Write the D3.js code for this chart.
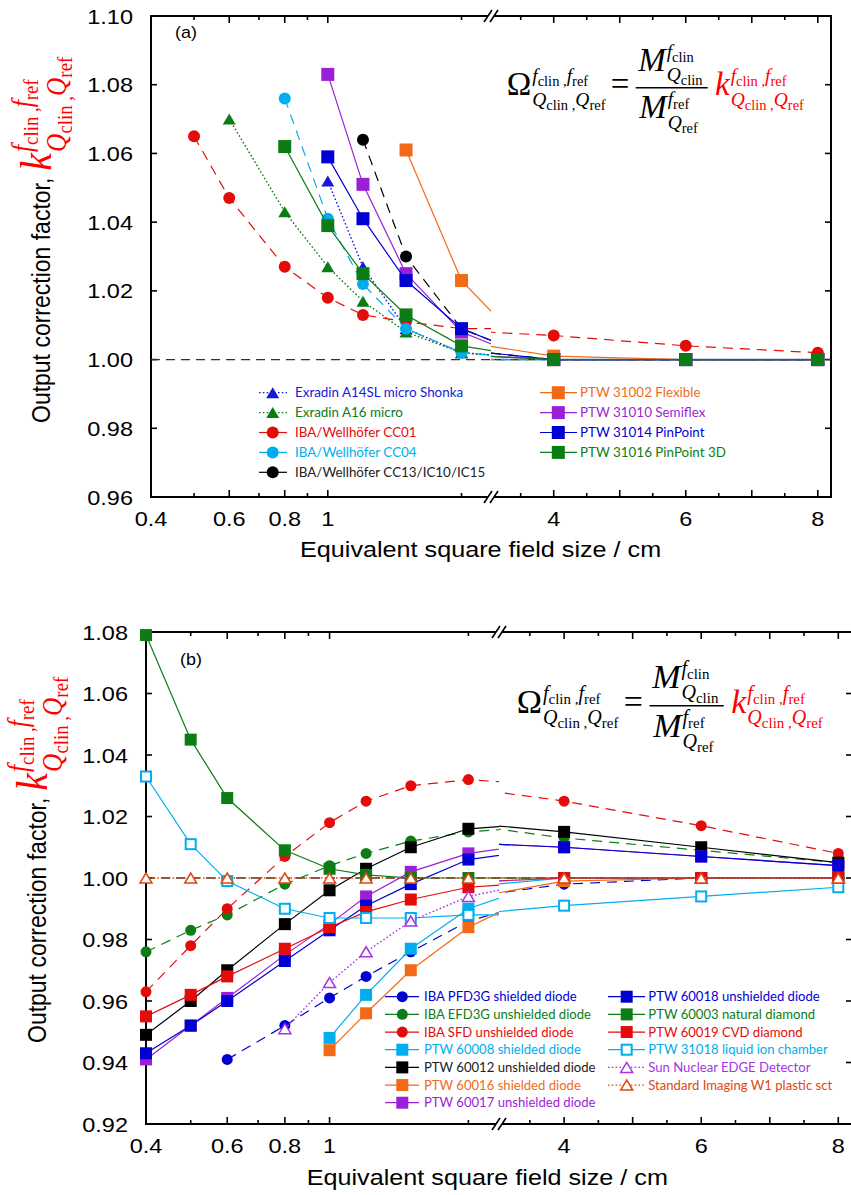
<!DOCTYPE html>
<html>
<head>
<meta charset="utf-8">
<script src="https://cdn.jsdelivr.net/npm/d3@7"></script>
<style>
body { margin: 0; background: #fff; }
svg { display: block; }
</style>
</head>
<body>
<svg id="chart" width="851" height="1195"></svg>
<script>
/*
Output correction factors vs equivalent square field size (two panels).
x axis is broken: log part 0.4 - 2.33 cm, linear part 3.05 - 8.2 cm.
*/

// Field sizes / cm shared by every series (2.5 and 3 sit inside the axis break)
var fieldSizes = [0.4, 0.5, 0.6, 0.8, 1.0, 1.2, 1.5, 2.0, 2.5, 3.0, 4.0, 6.0, 8.0];

// Panel (a): ionization chambers
var exradinA14SL = [null, null, null, null, 1.052, 1.027, 1.009, 1.002, 1.001, 1.000, 1.000, 1.000, 1.000];
var exradinA16   = [null, null, 1.070, 1.043, 1.027, 1.017, 1.008, 1.002, 1.001, 1.000, 1.000, 1.000, 1.000];
var ibaCC01      = [null, 1.065, 1.047, 1.027, 1.018, 1.013, 1.011, 1.009, 1.009, 1.008, 1.007, 1.004, 1.002];
var ibaCC04      = [null, null, null, 1.076, 1.041, 1.022, 1.009, 1.002, 1.001, 1.000, 1.000, 1.000, 1.000];
var ibaCC13      = [null, null, null, null, null, 1.064, 1.030, 1.009, 1.004, 1.002, 1.000, 1.000, 1.000];
var ptw31002     = [null, null, null, null, null, null, 1.061, 1.023, 1.010, 1.004, 1.001, 1.000, 1.000];
var ptw31010     = [null, null, null, null, 1.083, 1.051, 1.025, 1.008, 1.003, 1.001, 1.000, 1.000, 1.000];
var ptw31014     = [null, null, null, null, 1.059, 1.041, 1.023, 1.009, 1.004, 1.002, 1.000, 1.000, 1.000];
var ptw31016     = [null, null, null, 1.062, 1.039, 1.025, 1.013, 1.004, 1.002, 1.001, 1.000, 1.000, 1.000];

// Panel (b): diodes, diamonds, liquid chamber, scintillator
var ibaPFD3G  = [null, null, 0.941, 0.952, 0.961, 0.968, 0.976, 0.986, 0.990, 0.995, 0.998, 1.000, 1.000];
var ibaEFD3G  = [0.976, 0.983, 0.988, 0.998, 1.004, 1.008, 1.012, 1.015, 1.016, 1.016, 1.013, 1.009, 1.005];
var ibaSFD    = [0.963, 0.978, 0.990, 1.007, 1.018, 1.025, 1.030, 1.032, 1.031, 1.028, 1.025, 1.017, 1.008];
var ptw60008  = [null, null, null, null, 0.948, 0.962, 0.977, 0.990, 0.995, 0.998, 1.000, 1.000, 1.000];
var ptw60012  = [0.949, 0.960, 0.970, 0.985, 0.996, 1.003, 1.010, 1.016, 1.017, 1.017, 1.015, 1.010, 1.005];
var ptw60016  = [null, null, null, null, 0.944, 0.956, 0.970, 0.984, 0.991, 0.995, 0.999, 1.000, 1.000];
var ptw60017  = [0.941, 0.952, 0.961, 0.975, 0.985, 0.994, 1.002, 1.008, 1.010, 1.011, 1.010, 1.007, 1.004];
var ptw60018  = [0.943, 0.952, 0.960, 0.973, 0.983, 0.991, 0.998, 1.006, 1.008, 1.011, 1.010, 1.007, 1.004];
var ptw60003  = [1.079, 1.045, 1.026, 1.009, 1.003, 1.001, 1.000, 1.000, 1.000, 1.000, 1.000, 1.000, 1.000];
var ptw60019  = [0.955, 0.962, 0.968, 0.977, 0.984, 0.989, 0.993, 0.997, 0.998, 0.999, 1.000, 1.000, 1.000];
var ptw31018  = [1.033, 1.011, 0.999, 0.990, 0.987, 0.987, 0.987, 0.988, 0.988, 0.989, 0.991, 0.994, 0.997];
var snEDGE    = [null, null, null, 0.951, 0.966, 0.976, 0.986, 0.994, 0.997, 0.999, 1.000, 1.000, 1.000];
var siW1      = [1.000, 1.000, 1.000, 1.000, 1.000, 1.000, 1.000, 1.000, 1.000, 1.000, 1.000, 1.000, 1.000];

// Tick values
var xLabelsLog = [0.4, 0.6, 0.8, 1];
var xMinorLog = [0.5, 0.7, 0.9, 2];
var xMajorLin = [4, 5, 6, 7, 8];
var xLabelsLin = [4, 6, 8];
var xMinorLin = [3.5, 4.5, 5.5, 6.5, 7.5];
var yTicksA = [0.96, 0.98, 1.00, 1.02, 1.04, 1.06, 1.08, 1.10];
var yTicksB = [0.92, 0.94, 0.96, 0.98, 1.00, 1.02, 1.04, 1.06, 1.08];

/*
Styles
*/
var blue = "#0000d2", green = "#0c7d14", red = "#e40b0b", cyan = "#00aeef",
	orange = "#f26a17", purple = "#9b1fd6";

var seriesA = [
	{ name: "Exradin A14SL micro Shonka", values: exradinA14SL, color: "#1818d8", marker: "tri", line: "dot" },
	{ name: "Exradin A16 micro", values: exradinA16, color: green, marker: "tri", line: "dot" },
	{ name: "IBA/Wellhöfer CC01", values: ibaCC01, color: red, marker: "circle", line: "dash" },
	{ name: "IBA/Wellhöfer CC04", values: ibaCC04, color: cyan, marker: "circle", line: "dash" },
	{ name: "IBA/Wellhöfer CC13/IC10/IC15", values: ibaCC13, color: "#000", marker: "circle", line: "dash" },
	{ name: "PTW 31002 Flexible", values: ptw31002, color: orange, marker: "square", line: "solid" },
	{ name: "PTW 31010 Semiflex", values: ptw31010, color: purple, marker: "square", line: "solid" },
	{ name: "PTW 31014 PinPoint", values: ptw31014, color: blue, marker: "square", line: "solid" },
	{ name: "PTW 31016 PinPoint 3D", values: ptw31016, color: green, marker: "square", line: "solid" }
];

var seriesB = [
	{ name: "IBA PFD3G shielded diode", values: ibaPFD3G, color: blue, marker: "circle", line: "dash" },
	{ name: "IBA EFD3G unshielded diode", values: ibaEFD3G, color: green, marker: "circle", line: "dash" },
	{ name: "IBA SFD unshielded diode", values: ibaSFD, color: red, marker: "circle", line: "dash" },
	{ name: "PTW 60008 shielded diode", values: ptw60008, color: cyan, marker: "square", line: "solid" },
	{ name: "PTW 60012 unshielded diode", values: ptw60012, color: "#000", marker: "square", line: "solid" },
	{ name: "PTW 60016 shielded diode", values: ptw60016, color: orange, marker: "square", line: "solid" },
	{ name: "PTW 60017 unshielded diode", values: ptw60017, color: purple, marker: "square", line: "solid" },
	{ name: "PTW 60018 unshielded diode", values: ptw60018, color: blue, marker: "square", line: "solid" },
	{ name: "PTW 60003 natural diamond", values: ptw60003, color: green, marker: "square", line: "solid" },
	{ name: "PTW 60019 CVD diamond", values: ptw60019, color: red, marker: "square", line: "solid" },
	{ name: "PTW 31018 liquid ion chamber", values: ptw31018, color: cyan, marker: "osquare", line: "solid" },
	{ name: "Sun Nuclear EDGE Detector", values: snEDGE, color: "#a434e6", marker: "otri", line: "dot" },
	{ name: "Standard Imaging W1 plastic sct", values: siW1, color: "#e0460e", marker: "otri", line: "dot" }
];

var sans = '"Liberation Sans", Arial, sans-serif';
var serif = '"Liberation Serif", "Times New Roman", serif';
var legendFont = 'Lato, "Open Sans", sans-serif';
var sx = 1.12; // the reference text is slightly wider than tall
var breakFrom = 2.33, breakTo = 3.05;

var panels = [
	{
		id: "a", left: 151, top: 16, right: 831, bottom: 497, yDomain: [0.96, 1.10], yTicks: yTicksA,
		series: seriesA, mark: { sq: 13, r: 6, tw: 13, th: 11 },
		legend: { y0: 392.7, step: 19.9, split: 5, fontSize: 13.4,
			cols: [{ x1: 259, x2: 287, mx: 272.7, tx: 295 }, { x1: 540, x2: 577, mx: 558.3, tx: 580 }] },
		label: { text: "(a)", x: 175, y: 38 },
		eq: { x: 506.7, y: 95, s: 1 },
		xTitle: { x: 300, y: 556.7 },
		yTitle: { x: 50, y: 423 }
	},
	{
		id: "b", left: 146, top: 632, right: 852, bottom: 1124, yDomain: [0.92, 1.08], yTicks: yTicksB,
		series: seriesB, mark: { sq: 12, r: 5.5, tw: 12, th: 10 },
		legend: { y0: 996.7, step: 17.67, split: 7, fontSize: 13.1,
			cols: [{ x1: 385, x2: 419, mx: 402.3, tx: 424 }, { x1: 608, x2: 645, mx: 626.7, tx: 648.3 }] },
		label: { text: "(b)", x: 180, y: 665 },
		eq: { x: 516.7, y: 713.3, s: 1.03 },
		xTitle: { x: 306.7, y: 1185 },
		yTitle: { x: 46, y: 1043 }
	}
];

var svg = d3.select("#chart");
var defs = svg.append("defs");

panels.forEach(drawPanel);

/*
Helpers
*/
function dashOf(line) {
	if (line === "dash") return "10,7";
	if (line === "dot") return "1.6,2.2";
	return null;
}

function sText(parent, x, y, str, size, anchor) {
	return parent.append("text")
		.attr("transform", "translate(" + x + "," + y + ") scale(" + sx + ",1)")
		.attr("text-anchor", anchor || "start")
		.attr("font-family", sans)
		.attr("font-size", size)
		.attr("fill", "#000")
		.text(str);
}

function drawMarker(g, type, cx, cy, color, m) {
	if (type === "square") {
		g.append("rect").attr("x", cx - m.sq / 2).attr("y", cy - m.sq / 2)
			.attr("width", m.sq).attr("height", m.sq).attr("fill", color);
	} else if (type === "osquare") {
		var s = m.sq - 2;
		g.append("rect").attr("x", cx - s / 2).attr("y", cy - s / 2)
			.attr("width", s).attr("height", s)
			.attr("fill", "#fff").attr("stroke", color).attr("stroke-width", 2);
	} else if (type === "circle") {
		g.append("circle").attr("cx", cx).attr("cy", cy).attr("r", m.r).attr("fill", color);
	} else {
		var w = m.tw / 2, h = m.th / 2;
		var p = g.append("path")
			.attr("d", "M" + (cx - w) + "," + (cy + h) + "L" + (cx + w) + "," + (cy + h) + "L" + cx + "," + (cy - h) + "Z");
		if (type === "tri") p.attr("fill", color);
		else p.attr("fill", "#fff").attr("stroke", color).attr("stroke-width", 1.5);
	}
}

// Symbol with stacked super- and subscripts, e.g. k^{f_clin,f_ref}_{Q_clin,Q_ref}
// k scales the scripts and their offsets
function mathSym(g, x, y, sym, italic, size, color, sup, sub, k) {
	k = k || 1;
	var base = g.append("text")
		.attr("x", x).attr("y", y)
		.attr("font-family", serif).attr("font-size", size)
		.attr("font-style", italic ? "italic" : "normal")
		.attr("fill", color).text(sym);
	var w = base.node().getComputedTextLength();
	scriptRow(g, x + w + 1, y - 13 * k, sup, color, k);
	scriptRow(g, x + w + 1, y + 10.5 * k, sub, color, k);
}

function scriptRow(g, x, y, pairs, color, k) {
	var fs = 19.5 * k, small = 14.5 * k, shift = 4 * k;
	var t = g.append("text").attr("x", x).attr("y", y)
		.attr("font-family", serif).attr("fill", color);
	pairs.forEach(function(pr, i) {
		t.append("tspan").attr("font-style", "italic").attr("font-size", fs)
			.attr("dy", i === 0 ? 0 : -shift).text(pr[0]);
		t.append("tspan").attr("font-size", small).attr("dy", shift).text(pr[1]);
		if (i < pairs.length - 1) {
			t.append("tspan").attr("font-size", small).text(" ,");
		}
	});
}

function drawEquation(parent, e) {
	var g = parent.append("g")
		.attr("transform", "translate(" + e.x + "," + e.y + ") scale(" + e.s + ")");
	var both = [["f", "clin"], ["f", "ref"]], bothQ = [["Q", "clin"], ["Q", "ref"]];
	mathSym(g, 0, 0, "Ω", false, 33, "#000", both, bothQ);
	g.append("text").attr("x", 104).attr("y", 0)
		.attr("font-family", serif).attr("font-size", 33).text("=");
	g.append("line").attr("x1", 129).attr("x2", 201).attr("y1", -7.3).attr("y2", -7.3)
		.attr("stroke", "#000").attr("stroke-width", 1.6);
	mathSym(g, 131.5, -24.3, "M", true, 33, "#000", [["f", "clin"]], [["Q", "clin"]]);
	mathSym(g, 132.5, 23.3, "M", true, 33, "#000", [["f", "ref"]], [["Q", "ref"]]);
	mathSym(g, 208.3, 0, "k", true, 33, "#ff0000", both, bothQ);
}

function breakMark(g, cx, cy) {
	g.append("path")
		.attr("d", "M" + (cx - 7) + "," + (cy + 6) + "L" + (cx + 1) + "," + (cy - 6) +
			"L" + (cx + 7) + "," + (cy - 6) + "L" + (cx - 1) + "," + (cy + 6) + "Z")
		.attr("fill", "#fff");
	[[-7, 1], [-1, 7]].forEach(function(o) {
		g.append("line")
			.attr("x1", cx + o[0]).attr("y1", cy + 6).attr("x2", cx + o[1]).attr("y2", cy - 6)
			.attr("stroke", "#000").attr("stroke-width", 1.6);
	});
}

/*
Draw one panel
*/
function drawPanel(p) {
	var mid = (p.left + p.right) / 2;
	var xLog = d3.scaleLog().domain([0.4, breakFrom]).range([p.left, mid]);
	var xLin = d3.scaleLinear().domain([breakTo, 8.2]).range([mid, p.right]);
	var y = d3.scaleLinear().domain(p.yDomain).range([p.bottom, p.top]);
	var g = svg.append("g").attr("class", "panel-" + p.id);

	// Clip rectangles for the two x segments
	defs.append("clipPath").attr("id", "clipL" + p.id).append("rect")
		.attr("x", p.left).attr("y", p.top).attr("width", mid - p.left).attr("height", p.bottom - p.top);
	defs.append("clipPath").attr("id", "clipR" + p.id).append("rect")
		.attr("x", mid).attr("y", p.top).attr("width", p.right - mid).attr("height", p.bottom - p.top);

	// Frame
	g.append("rect")
		.attr("x", p.left).attr("y", p.top)
		.attr("width", p.right - p.left).attr("height", p.bottom - p.top)
		.attr("fill", "none").attr("stroke", "#000").attr("stroke-width", 2);

	// x ticks (inward, top and bottom)
	var xt = [];
	xLabelsLog.forEach(function(v) { if (v > 0.4) xt.push({ px: xLog(v), len: 7 }); });
	xMinorLog.forEach(function(v) { xt.push({ px: xLog(v), len: 4 }); });
	xMajorLin.forEach(function(v) { xt.push({ px: xLin(v), len: 7 }); });
	xMinorLin.forEach(function(v) { xt.push({ px: xLin(v), len: 4 }); });
	xt.forEach(function(t) {
		g.append("line").attr("x1", t.px).attr("x2", t.px)
			.attr("y1", p.bottom).attr("y2", p.bottom - t.len)
			.attr("stroke", "#000").attr("stroke-width", 1.6);
		g.append("line").attr("x1", t.px).attr("x2", t.px)
			.attr("y1", p.top).attr("y2", p.top + t.len)
			.attr("stroke", "#000").attr("stroke-width", 1.6);
	});

	// x tick labels
	xLabelsLog.forEach(function(v) { sText(g, xLog(v), p.bottom + 28.5, String(v), 21, "middle"); });
	xLabelsLin.forEach(function(v) { sText(g, xLin(v), p.bottom + 28.5, String(v), 21, "middle"); });

	// y ticks (left and right) and labels
	p.yTicks.forEach(function(v) {
		var py = y(v);
		if (py > p.top + 1 && py < p.bottom - 1) {
			g.append("line").attr("x1", p.left).attr("x2", p.left + 6).attr("y1", py).attr("y2", py)
				.attr("stroke", "#000").attr("stroke-width", 1.6);
			g.append("line").attr("x1", p.right).attr("x2", p.right - 6).attr("y1", py).attr("y2", py)
				.attr("stroke", "#000").attr("stroke-width", 1.6);
		}
		sText(g, p.left - 18, py + 7.5, d3.format(".2f")(v), 21, "end");
	});

	// Axis break marks
	breakMark(g, mid, p.bottom);
	breakMark(g, mid, p.top);

	// Reference line at 1.00
	g.append("line")
		.attr("x1", p.left).attr("x2", p.right).attr("y1", y(1)).attr("y2", y(1))
		.attr("stroke", "#333").attr("stroke-width", 1.3).attr("stroke-dasharray", "9,6");

	// Series
	p.series.forEach(function(s) {
		var pts = fieldSizes
			.map(function(x, i) { return { x: x, v: s.values[i] }; })
			.filter(function(d) { return d.v !== null; });
		var sg = g.append("g");
		[[xLog, "clipL"], [xLin, "clipR"]].forEach(function(seg) {
			var sc = seg[0];
			var line = d3.line().x(function(d) { return sc(d.x); }).y(function(d) { return y(d.v); });
			sg.append("path")
				.attr("clip-path", "url(#" + seg[1] + p.id + ")")
				.attr("d", line(pts))
				.attr("fill", "none")
				.attr("stroke", s.color)
				.attr("stroke-width", s.line === "dot" ? 1.4 : 1.2)
				.attr("stroke-dasharray", dashOf(s.line));
		});
		pts.forEach(function(d) {
			if (d.x <= breakFrom) drawMarker(sg, s.marker, xLog(d.x), y(d.v), s.color, p.mark);
			else if (d.x > breakTo) drawMarker(sg, s.marker, xLin(d.x), y(d.v), s.color, p.mark);
		});
	});

	// Legend
	var L = p.legend;
	p.series.forEach(function(s, i) {
		var col = L.cols[i < L.split ? 0 : 1];
		var row = i < L.split ? i : i - L.split;
		var ly = L.y0 + row * L.step;
		g.append("line").attr("x1", col.x1).attr("x2", col.x2).attr("y1", ly).attr("y2", ly)
			.attr("stroke", s.color).attr("stroke-width", 1.2)
			.attr("stroke-dasharray", s.line === "dot" ? dashOf("dot") : null);
		drawMarker(g, s.marker, col.mx, ly, s.color, p.mark);
		g.append("text").attr("x", col.tx).attr("y", ly + 4.7)
			.attr("font-family", legendFont).attr("font-size", L.fontSize)
			.attr("fill", s.color === "#000" ? "#222" : s.color)
			.text(s.name);
	});

	// Panel label
	sText(g, p.label.x, p.label.y, p.label.text, 16);

	// Equation
	drawEquation(g, p.eq);

	// x-axis title
	sText(g, p.xTitle.x, p.xTitle.y, "Equivalent square field size / cm", 22.5);

	// y-axis title with red k symbol
	var yt = g.append("g")
		.attr("transform", "translate(" + p.yTitle.x + "," + p.yTitle.y + ") scale(" + sx + ",1) rotate(-90)");
	var tt = yt.append("text").attr("x", 0).attr("y", 0)
		.attr("font-family", sans).attr("font-size", 23).attr("fill", "#000")
		.text("Output correction factor,");
	var len = tt.node().getComputedTextLength();
	mathSym(yt, len + 7, 1, "k", true, 40, "#ff0000",
		[["f", "clin"], ["f", "ref"]], [["Q", "clin"], ["Q", "ref"]], 1.3);
}
</script>
</body>
</html>
